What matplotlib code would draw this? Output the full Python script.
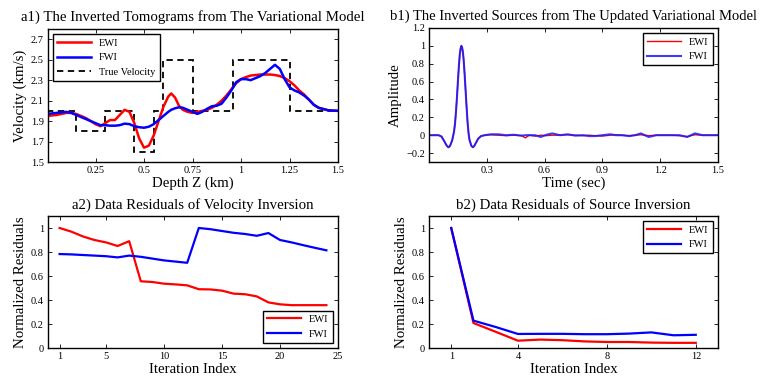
import matplotlib
matplotlib.use("Agg")
import matplotlib.pyplot as plt
from matplotlib.ticker import FuncFormatter

plt.rcParams["font.family"] = ["Liberation Serif", "DejaVu Serif"]

# a1) velocity profiles
depth = [0.00, 0.05, 0.10, 0.125, 0.15, 0.20, 0.25, 0.275, 0.30, 0.325, 0.35, 0.375,
         0.40, 0.425, 0.45, 0.475, 0.50, 0.525, 0.55, 0.575, 0.60, 0.625, 0.64, 0.66,
         0.68, 0.70, 0.725, 0.75, 0.775, 0.80, 0.825, 0.85, 0.875, 0.90, 0.925, 0.95,
         0.975, 1.00, 1.025, 1.05, 1.075, 1.10, 1.125, 1.15, 1.175, 1.20, 1.225, 1.25,
         1.275, 1.30, 1.325, 1.35, 1.375, 1.40, 1.45, 1.50]
vel_ewi = [1.95, 1.96, 1.98, 1.98, 1.97, 1.93, 1.87, 1.85, 1.88, 1.91, 1.91, 1.96,
           2.01, 1.99, 1.88, 1.73, 1.64, 1.66, 1.76, 1.90, 2.04, 2.14, 2.17, 2.13,
           2.05, 2.01, 1.99, 1.98, 1.99, 2.00, 2.01, 2.03, 2.06, 2.10, 2.15, 2.21,
           2.27, 2.31, 2.33, 2.345, 2.35, 2.355, 2.355, 2.355, 2.35, 2.34, 2.32, 2.29,
           2.25, 2.20, 2.16, 2.11, 2.06, 2.03, 2.005, 2.00]
vel_fwi = [1.97, 1.98, 1.99, 1.98, 1.96, 1.92, 1.88, 1.86, 1.86, 1.855, 1.855, 1.86,
           1.875, 1.87, 1.85, 1.84, 1.835, 1.845, 1.87, 1.91, 1.95, 1.99, 2.01, 2.025,
           2.035, 2.03, 2.01, 1.99, 1.97, 1.99, 2.02, 2.045, 2.05, 2.07, 2.13, 2.20,
           2.28, 2.31, 2.31, 2.30, 2.32, 2.34, 2.37, 2.41, 2.45, 2.41, 2.31, 2.23,
           2.20, 2.18, 2.15, 2.11, 2.06, 2.03, 2.005, 2.00]
true_edges = [0.0, 0.15, 0.30, 0.45, 0.55, 0.60, 0.75, 0.96, 1.25, 1.50]
true_vel = [2.0, 1.8, 2.0, 1.6, 2.0, 2.5, 2.0, 2.5, 2.0]

# b1) source wavelets
t_src = [0.00, 0.05, 0.065, 0.08, 0.09, 0.10, 0.105, 0.11, 0.12, 0.13, 0.135, 0.14,
         0.145, 0.15, 0.155, 0.16, 0.164, 0.168, 0.172, 0.176, 0.18, 0.185, 0.19,
         0.195, 0.20, 0.205, 0.21, 0.22, 0.228, 0.235, 0.245, 0.255, 0.27, 0.29,
         0.32, 0.36, 0.40, 0.44, 0.48, 0.50, 0.52, 0.55, 0.58, 0.61, 0.64, 0.68,
         0.72, 0.76, 0.80, 0.83, 0.86, 0.90, 0.94, 0.97, 1.00, 1.04, 1.07, 1.10,
         1.14, 1.18, 1.22, 1.26, 1.30, 1.34, 1.38, 1.42, 1.46, 1.50]
src_ewi = [0.0, 0.0, -0.015, -0.07, -0.11, -0.135, -0.13, -0.115, -0.06, 0.04, 0.13,
           0.26, 0.42, 0.60, 0.77, 0.91, 0.97, 1.0, 0.98, 0.93, 0.84, 0.68, 0.50,
           0.32, 0.15, 0.03, -0.05, -0.12, -0.135, -0.12, -0.08, -0.04, -0.01, 0.0,
           0.005, 0.0, -0.005, 0.0, -0.005, -0.03, 0.0, -0.01, 0.0, -0.005, 0.0, 0.0,
           0.005, 0.0, -0.005, 0.0, -0.005, -0.01, 0.0, 0.005, 0.0, -0.005, 0.0,
           0.005, -0.005, 0.0, 0.0, 0.0, -0.005, -0.015, 0.005, 0.0, 0.0, 0.0]
src_fwi = [0.0, 0.0, -0.015, -0.07, -0.11, -0.135, -0.13, -0.115, -0.06, 0.04, 0.13,
           0.26, 0.42, 0.60, 0.77, 0.91, 0.97, 1.0, 0.98, 0.93, 0.84, 0.68, 0.50,
           0.32, 0.15, 0.03, -0.05, -0.12, -0.135, -0.12, -0.08, -0.04, -0.01, 0.0,
           0.01, 0.01, 0.0, 0.005, -0.005, 0.0, 0.0, 0.0, -0.02, 0.005, 0.02, 0.0,
           0.01, -0.005, 0.0, -0.01, -0.01, 0.0, 0.01, 0.0, 0.0, -0.01, 0.0, 0.02,
           -0.02, 0.0, 0.0, 0.0, 0.0, -0.02, 0.02, 0.0, 0.0, 0.0]

# a2) residuals of velocity inversion
iters_v = list(range(1, 25))
res_v_ewi = [1.0, 0.97, 0.93, 0.90, 0.88, 0.85, 0.89, 0.556, 0.55, 0.536, 0.53, 0.522,
             0.49, 0.488, 0.478, 0.453, 0.448, 0.43, 0.38, 0.364, 0.357, 0.357, 0.357, 0.357]
res_v_fwi = [0.783, 0.78, 0.775, 0.77, 0.765, 0.755, 0.77, 0.76, 0.745, 0.73, 0.72, 0.71,
             1.0, 0.99, 0.975, 0.96, 0.95, 0.935, 0.958, 0.90, 0.88, 0.857, 0.835, 0.814]

# b2) residuals of source inversion
iters_s = list(range(1, 13))
res_s_ewi = [1.0, 0.208, 0.135, 0.061, 0.07, 0.065, 0.055, 0.05, 0.05, 0.045, 0.043, 0.043]
res_s_fwi = [1.0, 0.228, 0.175, 0.117, 0.118, 0.118, 0.115, 0.115, 0.12, 0.13, 0.106, 0.11]

W, H = 761, 383
fig = plt.figure(figsize=(W / 100, H / 100), dpi=100)


def make_ax(l, r, t, b):
    # pixel box -> figure fraction
    return fig.add_axes([l / W, 1 - b / H, (r - l) / W, (b - t) / H])


ax1 = make_ax(48, 338, 29, 162)
ax2 = make_ax(429, 718, 28, 162)
ax3 = make_ax(48, 338, 216, 348)
ax4 = make_ax(429, 718, 216, 348)

fmt = FuncFormatter(lambda v, p: f"{v:g}".replace("-", "\u2212"))
for ax in (ax1, ax2, ax3, ax4):
    ax.tick_params(direction="in", top=True, right=True, labelsize=7.5,
                   length=3, width=0.6, pad=3)
    for s in ax.spines.values():
        s.set_linewidth(1.0)
    ax.xaxis.set_major_formatter(fmt)
    ax.yaxis.set_major_formatter(fmt)

leg_kw = dict(fontsize=7.5, fancybox=False, edgecolor="black", framealpha=1,
              handlelength=3.2, borderpad=0.4, labelspacing=0.5)
lab = 10.7

# a1
ax1.plot(depth, vel_ewi, color="red", lw=1.8, label="EWI")
ax1.plot(depth, vel_fwi, color="blue", lw=1.8, label="FWI")
ax1.stairs(true_vel, true_edges, color="black", ls=(0, (3.5, 2.5)), lw=1.3,
           label="True Velocity", baseline=None)
ax1.set_xlim(0.005, 1.5)
ax1.set_ylim(1.5, 2.8)
ax1.set_xticks([0.25, 0.5, 0.75, 1.0, 1.25, 1.5])
ax1.set_yticks([1.5, 1.7, 1.9, 2.1, 2.3, 2.5, 2.7])
ax1.set_xlabel("Depth Z (km)", fontsize=lab, labelpad=1)
ax1.set_ylabel("Velocity (km/s)", fontsize=lab, labelpad=3)
ax1.set_title("a1) The Inverted Tomograms from The Variational Model", fontsize=lab, pad=6)
ax1.legend(loc="upper left", **leg_kw).get_frame().set_linewidth(1.0)

# b1
ax2.plot(t_src, src_ewi, color="red", lw=1.0, label="EWI")
ax2.plot(t_src, src_fwi, color="#1a1aff", lw=1.5, alpha=0.85, label="FWI")
ax2.set_xlim(0, 1.5)
ax2.set_ylim(-0.3, 1.2)
ax2.set_xticks([0.3, 0.6, 0.9, 1.2, 1.5])
ax2.set_yticks([-0.2, 0, 0.2, 0.4, 0.6, 0.8, 1.0, 1.2])
ax2.set_xlabel("Time (sec)", fontsize=lab, labelpad=1)
ax2.set_ylabel("Amplitude", fontsize=lab, labelpad=3)
ax2.set_title("b1) The Inverted Sources from The Updated Variational Model", fontsize=10.5, pad=6)
ax2.legend(loc="upper right", **leg_kw).get_frame().set_linewidth(1.0)

# a2
ax3.plot(iters_v, res_v_ewi, color="red", lw=1.6, label="EWI")
ax3.plot(iters_v, res_v_fwi, color="blue", lw=1.6, label="FWI")
ax3.set_xlim(0, 25)
ax3.set_ylim(0, 1.1)
ax3.set_xticks([1, 5, 10, 15, 20, 25])
ax3.set_yticks([0, 0.2, 0.4, 0.6, 0.8, 1.0])
ax3.set_xlabel("Iteration Index", fontsize=lab, labelpad=1)
ax3.set_ylabel("Normalized Residuals", fontsize=lab, labelpad=3)
ax3.set_title("a2) Data Residuals of Velocity Inversion", fontsize=lab, pad=5)
ax3.legend(loc="lower right", **leg_kw).get_frame().set_linewidth(1.0)

# b2
ax4.plot(iters_s, res_s_ewi, color="red", lw=1.6, label="EWI")
ax4.plot(iters_s, res_s_fwi, color="blue", lw=1.6, label="FWI")
ax4.set_xlim(0, 13)
ax4.set_ylim(0, 1.1)
ax4.set_xticks([1, 4, 8, 12])
ax4.set_yticks([0, 0.2, 0.4, 0.6, 0.8, 1.0])
ax4.set_xlabel("Iteration Index", fontsize=lab, labelpad=1)
ax4.set_ylabel("Normalized Residuals", fontsize=lab, labelpad=3)
ax4.set_title("b2) Data Residuals of Source Inversion", fontsize=lab, pad=5)
ax4.legend(loc="upper right", **leg_kw).get_frame().set_linewidth(1.0)

fig.savefig("out.png", dpi=100, facecolor="white")
